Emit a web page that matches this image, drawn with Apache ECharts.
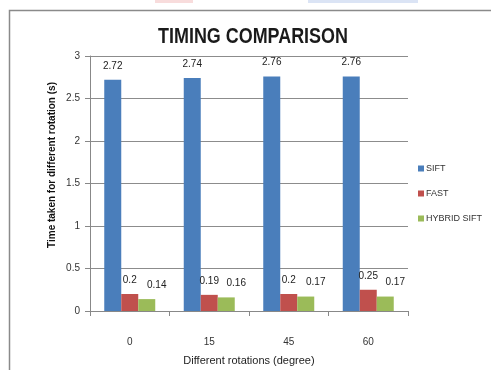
<!DOCTYPE html>
<html>
<head>
<meta charset="utf-8">
<script src="https://cdn.jsdelivr.net/npm/echarts@6/dist/echarts.min.js"></script>
<style>
  html, body { margin: 0; padding: 0; background: #fff; }
  #chart { width: 491px; height: 370px; }
</style>
</head>
<body>
<div id="chart"></div>
<script>
// Rotation angles (degrees) tested
const rotations = ['0', '15', '45', '60'];
// Timing per method, seconds
const siftTimes = [2.72, 2.74, 2.76, 2.76];
const fastTimes = [0.2, 0.19, 0.2, 0.25];
const hybridTimes = [0.14, 0.16, 0.17, 0.17];
const seriesNames = ['SIFT', 'FAST', 'HYBRID SIFT'];
const seriesColors = ['#4A7EBB', '#C0504D', '#9BBB59'];

const FONT = 'Liberation Sans, Arial, sans-serif';
const chart = echarts.init(document.getElementById('chart'));

function barSeries(name, data, color, labelShiftX) {
  return {
    name: name,
    type: 'bar',
    data: data,
    barWidth: 17,
    barGap: '0%',
    itemStyle: { color: color },
    label: {
      show: true,
      position: 'top',
      distance: 9,
      offset: [labelShiftX, 0],
      color: '#222',
      fontSize: 10,
      fontFamily: FONT
    }
  };
}

chart.setOption({
  animation: false,
  backgroundColor: '#fff',
  legend: {
    orient: 'vertical',
    left: 413,
    top: 159,
    itemGap: 16,
    itemWidth: 6,
    itemHeight: 6,
    icon: 'rect',
    data: seriesNames,
    textStyle: {
      fontSize: 9,
      color: '#333',
      padding: [0, 0, 0, -3],
      fontFamily: FONT
    }
  },
  grid: { left: 90, right: 83, top: 56, bottom: 59, outerBoundsMode: 'none', containLabel: false },
  xAxis: {
    type: 'category',
    data: rotations,
    name: 'Different rotations (degree)',
    nameLocation: 'middle',
    nameGap: 44,
    nameTextStyle: {
      fontSize: 11,
      color: '#222',
      fontFamily: FONT
    },
    axisLine: { lineStyle: { color: '#888' } },
    axisTick: { show: true, length: 5, lineStyle: { color: '#888' } },
    axisLabel: {
      margin: 26,
      fontSize: 10,
      color: '#333',
      fontFamily: FONT
    }
  },
  yAxis: {
    type: 'value',
    min: 0,
    max: 3,
    interval: 0.5,
    axisLine: { show: true, lineStyle: { color: '#888' } },
    axisTick: { show: true, inside: false, length: 5, lineStyle: { color: '#888' } },
    axisLabel: {
      margin: 10,
      fontSize: 10,
      color: '#333',
      fontFamily: FONT
    },
    splitLine: { show: true, lineStyle: { color: '#8c8c8c', width: 1 } }
  },
  graphic: [
    // outer frame of the chart sheet
    {
      type: 'rect',
      shape: { x: 9.5, y: 10.5, width: 520, height: 400 },
      style: { fill: 'none', stroke: '#8a8a8a', lineWidth: 1.5 },
      silent: true
    },
    // faint header strips at the very top
    {
      type: 'rect',
      shape: { x: 155, y: 0, width: 38, height: 3 },
      style: { fill: '#f8dcdc' },
      silent: true
    },
    {
      type: 'rect',
      shape: { x: 308, y: 0, width: 110, height: 3 },
      style: { fill: '#dbe4f5' },
      silent: true
    },
    // chart title, narrowed horizontally
    {
      type: 'text',
      x: 253,
      y: 37,
      scaleX: 0.815,
      silent: true,
      style: {
        text: 'TIMING COMPARISON',
        fill: '#1a1a1a',
        font: 'bold 22px ' + FONT,
        textAlign: 'center',
        textVerticalAlign: 'middle'
      }
    },
    // value axis title
    {
      type: 'text',
      x: 52,
      y: 165,
      rotation: Math.PI / 2,
      silent: true,
      style: {
        text: 'Time taken for different rotation (s)',
        fill: '#111',
        font: 'bold 10px ' + FONT,
        textAlign: 'center',
        textVerticalAlign: 'middle'
      }
    }
  ],
  series: [
    barSeries(seriesNames[0], siftTimes, seriesColors[0], 0),
    barSeries(seriesNames[1], fastTimes, seriesColors[1], 0),
    barSeries(seriesNames[2], hybridTimes, seriesColors[2], 10)
  ]
});
</script>
</body>
</html>
